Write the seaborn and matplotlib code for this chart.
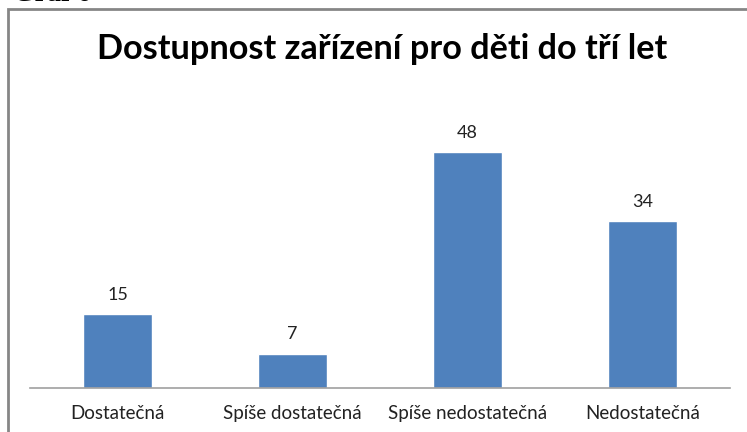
import matplotlib
matplotlib.use("Agg")
import matplotlib.pyplot as plt
import seaborn as sns
import pandas as pd
from matplotlib.patches import Rectangle

categories = ["Dostatečná", "Spíše dostatečná", "Spíše nedostatečná", "Nedostatečná"]
values = [15, 7, 48, 34]
title = "Dostupnost zařízení pro děti do tří let"

sns.set_theme(style="white")
plt.rcParams['font.family'] = ['Lato', 'DejaVu Sans']

W, H = 747, 432
fig = plt.figure(figsize=(W / 100, H / 100), dpi=100)

# outer chart frame (left and top visible)
fig.patches.append(Rectangle((8 / W, -0.1), 2.0, 1 - 9 / H + 0.1, transform=fig.transFigure,
                             fill=False, edgecolor="#868686", linewidth=2.0))

fig.text(13 / W, 1 - 1 / H, "Graf 6", ha="left", va="baseline", fontsize=20,
         fontweight="bold", family=["Liberation Serif"], color="black")

ymax = 60
ppu = (388 - 152) / 48
top_px = 388 - ymax * ppu
ax = fig.add_axes([30 / W, (H - 388) / H, 700 / W, (388 - top_px) / H])

df = pd.DataFrame({"cat": categories, "val": values})
sns.barplot(data=df, x="cat", y="val", color="#4F81BD", width=0.394, saturation=1, ax=ax)
ax.set_xlim(-0.5, 3.5)
ax.set_ylim(0, ymax)
ax.set_xlabel("")
ax.set_ylabel("")
ax.set_yticks([])
for s in ["top", "right", "left"]:
    ax.spines[s].set_visible(False)
ax.spines["bottom"].set_color("#A0A0A0")
ax.spines["bottom"].set_linewidth(1.2)
ax.tick_params(axis="x", length=0, pad=12, labelsize=13.5, labelcolor="#222222")

for i, v in enumerate(values):
    ax.annotate(str(v), (i, v), xytext=(0, 8), textcoords="offset points",
                ha="center", va="bottom", fontsize=13, color="#222222")

fig.text(382 / W, 1 - 49 / H, title, ha="center", va="center", fontsize=24.7,
         fontweight="bold", color="black")

fig.savefig("out.png", dpi=100)
